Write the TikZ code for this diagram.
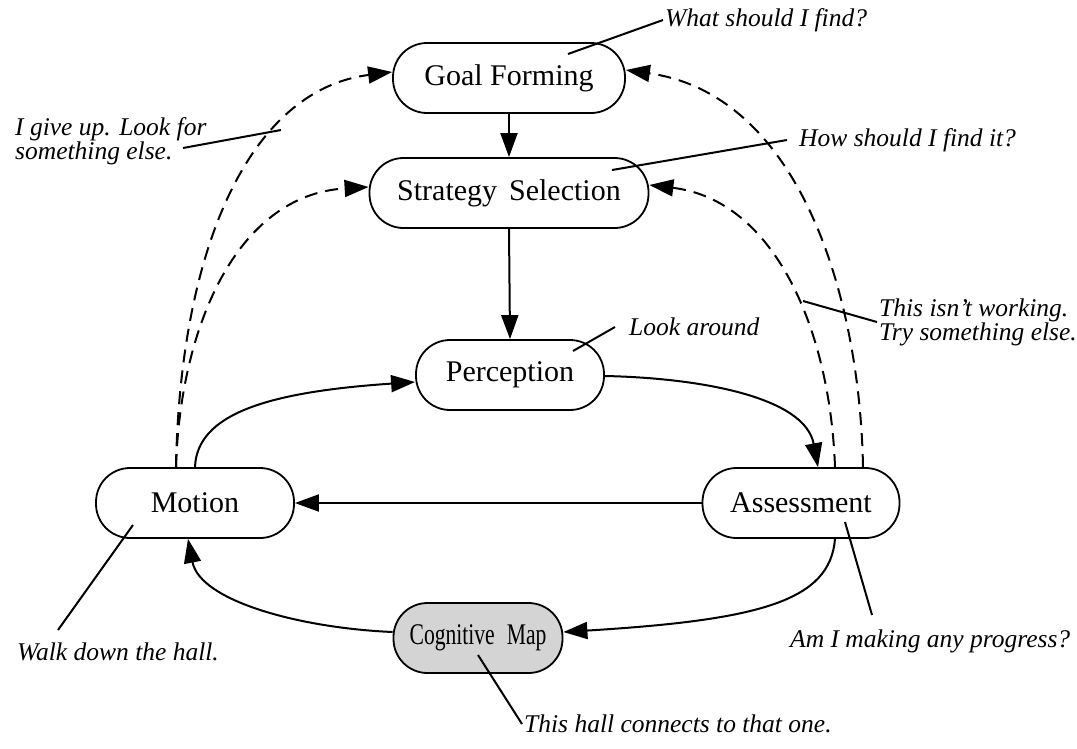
\documentclass[tikz,border=0pt]{standalone}
\usepackage{fontspec}
\setmainfont{Liberation Serif}
\newfontfamily\narrowfont[FakeStretch=0.72]{Liberation Serif}
\usetikzlibrary{arrows.meta,positioning}

\begin{document}
\begin{tikzpicture}[x=1pt,y=-1pt,
	stage/.style={draw,line width=1.8pt,rounded corners=34pt,minimum height=70pt,inner sep=0pt,font=\fontsize{30}{36}\selectfont},
	note/.style={inner sep=2pt,align=left,font=\fontsize{25.5}{24}\selectfont\itshape},
	flow/.style={line width=2pt,-{Triangle[length=24pt,width=17pt]}},
	retry/.style={flow,dash pattern=on 13pt off 8pt},
	lead/.style={line width=2pt}]
\useasboundingbox (0,0) rectangle (1077,748);

%stages
\node[stage,minimum width=232pt] (GF) at (509,78) {Goal Forming};
\node[stage,minimum width=279pt] (SS) at (509,193) {Strategy\hspace{.4em}Selection};
\node[stage,minimum width=188pt] (PE) at (510,375) {Perception};
\node[stage,minimum width=198pt] (MO) at (195,503) {Motion};
\node[stage,minimum width=197pt] (AS) at (801,503) {Assessment};
\node[stage,minimum width=169pt,fill=black!17] (CM) at (478,638) {\narrowfont Cognitive\hspace{.4em}Map};

%main loop
\draw[flow] (GF.south) -- (SS.north);
\draw[flow] (SS.south) -- (PE.north);
\draw[flow] (MO.north) .. controls +(2,-53) and +(-148,10) .. ([yshift=-7pt]PE.west);
\draw[flow] ([yshift=-1pt]PE.east) .. controls +(96,2) and +(-13,-70) .. ([xshift=17pt]AS.north);
\draw[flow] (AS.west) -- (MO.east);
\draw[flow] ([xshift=34pt]AS.south) .. controls +(-5,62) and +(197,-12) .. ([yshift=6pt]CM.east);
\draw[flow] ([yshift=6pt]CM.west) .. controls +(-93,-4) and +(12,62) .. ([xshift=-7pt]MO.south);

%going back
\draw[retry] ([xshift=-19pt]MO.north) .. controls +(4,-218) and +(-143,18) .. ([yshift=6pt]GF.west);
\draw[retry] ([xshift=-19pt]MO.north) .. controls +(4,-138) and +(-133,8) .. ([yshift=6pt]SS.west);
\draw[retry] ([xshift=62pt]AS.north) .. controls +(-3,-168) and +(175,25) .. ([yshift=8pt]GF.east);
\draw[retry] ([xshift=34pt]AS.north) .. controls +(-5,-138) and +(125,15) .. ([yshift=8pt]SS.east);

%remarks
\node[note,anchor=west] (qWhat) at (663,20) {What should I find?};
\node[note,anchor=west] (qHow) at (797,140) {How should I find it?};
\node[note,anchor=west] (qGive) at (13,141) {I give up. Look for\\something else.};
\node[note,anchor=west] (qLook) at (627,327) {Look around};
\node[note,anchor=west] (qWork) at (877,322) {This isn't working.\\Try something else.};
\node[note,anchor=west] (qWalk) at (15,652) {Walk down the hall.};
\node[note,anchor=west] (qProg) at (788,641) {Am I making any progress?};
\node[note,anchor=west] (qHall) at (522,724) {This hall connects to that one.};

\coordinate (cWhat) at (568,54);
\coordinate (cHow) at (612,170);
\coordinate (cGive) at (281,130);% on the dashes
\coordinate (cGiveA) at (183,148);
\coordinate (cLook) at (573,351);
\coordinate (cWork) at (803,301);% on the dashes
\coordinate (cWalk) at (133,525);
\coordinate (cWalkA) at (58,630);
\coordinate (cProg) at (845,522);
\coordinate (cProgA) at (872,615);
\coordinate (cHall) at (478,655);

\draw[lead] (qWhat.west) -- (cWhat);
\draw[lead] ([xshift=-10pt]qHow.west) -- (cHow);
\draw[lead] (cGiveA) -- (cGive);
\draw[lead] ([xshift=-12pt]qLook.west) -- (cLook);
\draw[lead] (qWork.west) -- (cWork);
\draw[lead] (cWalkA) -- (cWalk);
\draw[lead] (cProgA) -- (cProg);
\draw[lead] (qHall.west) -- (cHall);

\end{tikzpicture}
\end{document}
